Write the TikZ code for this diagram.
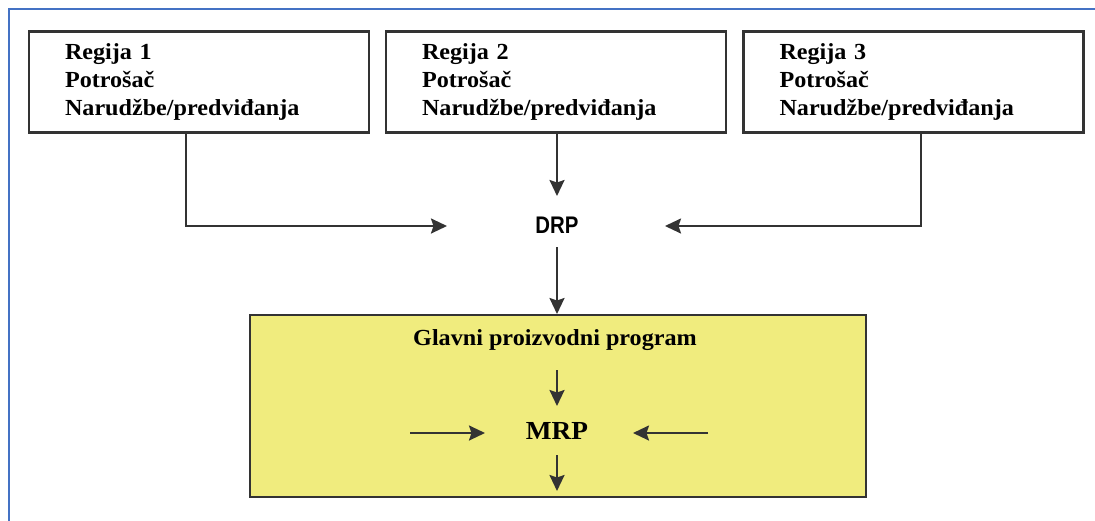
\documentclass[tikz,border=0pt]{standalone}
\usepackage{fontspec}
\setmainfont[FakeStretch=1.05]{Liberation Serif}
\newfontfamily\drpfont[FakeStretch=0.85]{Liberation Sans}
\usetikzlibrary{arrows.meta}
\definecolor{frameblue}{HTML}{4472C4}
\definecolor{boxline}{HTML}{333333}
\definecolor{mpsyellow}{HTML}{F0EC7E}
\tikzset{
  regbox/.style={draw=boxline, line width=2.4pt, fill=white, text width=268pt, inner xsep=36pt, inner ysep=0pt,
    minimum height=101pt, align=left, font=\fontsize{23}{28}\selectfont\bfseries},
  conn/.style={draw=boxline, line width=2.2pt, -{Stealth[length=16pt,width=15pt,inset=2.5pt]}},
  lbl/.style={font=\fontsize{23}{28}\selectfont\bfseries, inner sep=0pt},
}
\begin{document}
\begin{tikzpicture}[x=1pt,y=-1pt]
\useasboundingbox (0,0) rectangle (1095,520);
\fill[white] (0,0) rectangle (1095,520);
% blue frame
\draw[frameblue, line width=2.2pt] (9,521) -- (9,9) -- (1096,9);
% region boxes
\node[regbox] (r1) at (199,82) {Regija 1\\Potrošač\\Narudžbe/predviđanja};
\node[regbox] (r2) at (556,82) {Regija 2\\Potrošač\\Narudžbe/predviđanja};
\node[regbox] (r3) at (913.5,82) {Regija 3\\Potrošač\\Narudžbe/predviđanja};
% DRP
\node[font=\drpfont\fontsize{24}{28}\selectfont\bfseries, inner sep=0pt] (drp) at (557,225) {DRP};
\coordinate (d1) at (186,133);
\coordinate (d3) at (921,133);
\coordinate (tl) at (447,226);
\coordinate (tr) at (665,226);
\draw[conn] (d1) |- (tl);
\draw[conn] (d3) |- (tr);
\coordinate (r2b) at (557,133);
\coordinate (drpin) at (557,196);
\draw[conn] (r2b) -- (drpin);
% MPS box
\node[draw=boxline, line width=2pt, fill=mpsyellow, minimum width=616pt, minimum height=182pt, inner sep=0pt] (mps) at (558,406) {};
\coordinate (drpout) at (557,247);
\draw[conn] (drpout) -- (mps.north -| drpout);
\node[lbl] (glavni) at (555,340) {Glavni proizvodni program};
\node[lbl, font=\fontsize{26}{30}\selectfont\bfseries] (mrp) at (557,431) {MRP};
\coordinate (a1s) at (557,370);
\coordinate (a1e) at (557,406);
\coordinate (a2s) at (557,455);
\coordinate (a2e) at (557,491);
\coordinate (ls) at (410,433);
\coordinate (le) at (485,433);
\coordinate (rs) at (708,433);
\coordinate (re) at (633,433);
\draw[conn] (a1s) -- (a1e);
\draw[conn] (a2s) -- (a2e);
\draw[conn] (ls) -- (le);
\draw[conn] (rs) -- (re);
\end{tikzpicture}
\end{document}
